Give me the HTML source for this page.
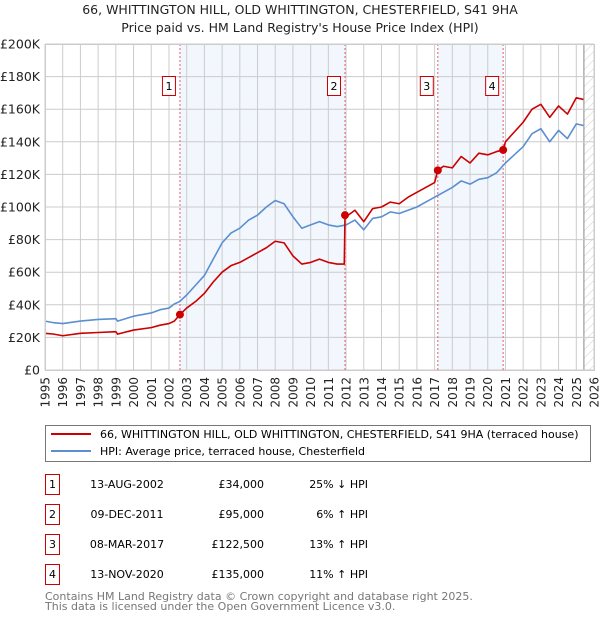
<!DOCTYPE html>
<html><head><meta charset="utf-8"><style>
body{margin:0;background:#fff;font-family:"Liberation Sans","DejaVu Sans",sans-serif;}
svg text{font-family:"DejaVu Sans","Liberation Sans",sans-serif;}
</style></head><body>
<svg id="c" width="600" height="620" xmlns="http://www.w3.org/2000/svg">
<defs><pattern id="hatch" width="6" height="6" patternUnits="userSpaceOnUse" patternTransform="rotate(45)"><line x1="0" y1="0" x2="0" y2="6" stroke="#ccc" stroke-width="1"/></pattern></defs>
<text x="300" y="14" text-anchor="middle" font-size="12.5" fill="#222">66, WHITTINGTON HILL, OLD WHITTINGTON, CHESTERFIELD, S41 9HA</text>
<text x="300" y="32" text-anchor="middle" font-size="12.5" fill="#222">Price paid vs. HM Land Registry's House Price Index (HPI)</text>
<g id="plot"></g>
<g>
<rect x="45.5" y="425.5" width="545" height="36" fill="#fff" stroke="#777"/>
<line x1="51" y1="434" x2="91" y2="434" stroke="#cc0000" stroke-width="2"/>
<text x="100" y="438" font-size="11" fill="#000">66, WHITTINGTON HILL, OLD WHITTINGTON, CHESTERFIELD, S41 9HA (terraced house)</text>
<line x1="51" y1="451" x2="91" y2="451" stroke="#5b8fd0" stroke-width="2"/>
<text x="100" y="455" font-size="11" fill="#000">HPI: Average price, terraced house, Chesterfield</text>
</g>
<g id="table" font-size="11" fill="#000"></g>
<text x="45" y="600" font-size="11" fill="#777">Contains HM Land Registry data © Crown copyright and database right 2025.</text>
<text x="45" y="610" font-size="11" fill="#777">This data is licensed under the Open Government Licence v3.0.</text>
</svg>
<script>
const hpiYears=[1995,1995.5,1996,1997,1998,1999,1999.1,2000,2001,2001.5,2002,2002.3,2002.6,2003,2003.5,2004,2004.5,2005,2005.5,2006,2006.5,2007,2007.5,2008,2008.5,2009,2009.5,2010,2010.5,2011,2011.5,2012,2012.5,2013,2013.5,2014,2014.5,2015,2015.5,2016,2016.5,2017,2017.5,2018,2018.5,2019,2019.5,2020,2020.5,2021,2021.5,2022,2022.5,2023,2023.5,2024,2024.5,2025,2025.4];
const hpiValues=[30,29,28.5,30,31,31.5,30,33,35,37,38,40.5,42,46,52,58,68,78,84,87,92,95,100,104,102,94,87,89,91,89,88,89,92,86,93,94,97,96,98,100,103,106,109,112,116,114,117,118,121,127,132,137,145,148,140,147,142,151,150];
const propYears=[1995,1995.5,1996,1997,1998,1999,1999.1,2000,2001,2001.5,2002,2002.3,2002.62,2003,2003.5,2004,2004.5,2005,2005.5,2006,2006.5,2007,2007.5,2008,2008.5,2009,2009.5,2010,2010.5,2011,2011.5,2011.9,2011.94,2012,2012.5,2013,2013.5,2014,2014.5,2015,2015.5,2016,2016.5,2017,2017.18,2017.5,2018,2018.5,2019,2019.5,2020,2020.5,2020.87,2021,2021.5,2022,2022.5,2023,2023.5,2024,2024.5,2025,2025.4];
const propValues=[22.5,22,21,22.5,23,23.5,22,24.5,26,27.5,28.5,30,34,38,42,47,54,60,64,66,69,72,75,79,78,70,65,66,68,66,65,65,95,94,98,91,99,100,103,102,106,109,112,115,122.5,125,124,131,127,133,132,134,135,140,146,152,160,163,155,162,157,167,166];
const saleNums=["1","2","3","4"];
const saleYears=[2002.62,2011.94,2017.18,2020.87];
const salePrices=[34,95,122.5,135];
const saleDates=["13-AUG-2002","09-DEC-2011","08-MAR-2017","13-NOV-2020"];
const salePriceLabels=["£34,000","£95,000","£122,500","£135,000"];
const saleHpi=["25% ↓ HPI","6% ↑ HPI","13% ↑ HPI","11% ↑ HPI"];
const yTicks=[0,20,40,60,80,100,120,140,160,180,200];
const yTickLabels=["£0","£20K","£40K","£60K","£80K","£100K","£120K","£140K","£160K","£180K","£200K"];
const xTicks=[1995,1996,1997,1998,1999,2000,2001,2002,2003,2004,2005,2006,2007,2008,2009,2010,2011,2012,2013,2014,2015,2016,2017,2018,2019,2020,2021,2022,2023,2024,2025,2026];

const L=45,R=594,T=44,B=370,x0=1995,x1=2026,yMax=200;
const xs=v=>L+(v-x0)/(x1-x0)*(R-L);
const ys=v=>B-v/yMax*(B-T);
const NS="http://www.w3.org/2000/svg";
const plot=document.getElementById('plot');
function mk(tag,attrs,parent){const e=document.createElementNS(NS,tag);for(const k in attrs)e.setAttribute(k,attrs[k]);(parent||plot).appendChild(e);return e;}
// shading
for(let i=0;i<saleYears.length;i+=2){
 const r=mk('rect',{x:xs(saleYears[i]),y:T,width:xs(saleYears[i+1])-xs(saleYears[i]),height:B-T,fill:'#eef3fc',opacity:0.75});
 
 
}
// hatch
const h=mk('rect',{x:xs(2025.43),y:T,width:R-xs(2025.43),height:B-T,fill:'url(#hatch)'});


mk('line',{x1:xs(2025.43),y1:T,x2:xs(2025.43),y2:B,stroke:'#888','stroke-width':1});
// grid
yTicks.forEach((v,i)=>{
 mk('line',{x1:L,x2:R,y1:ys(v),y2:ys(v),stroke:'#ccc','stroke-width':1});
 const t=mk('text',{x:L-5,y:ys(v)+4.5,'text-anchor':'end','font-size':12.5,fill:'#222'});
 t.textContent=yTickLabels[i];
 
 
});
xTicks.forEach(v=>{
 mk('line',{x1:xs(v),x2:xs(v),y1:T,y2:B,stroke:'#ccc','stroke-width':1});
 const t=mk('text',{x:0,y:0,'text-anchor':'end','font-size':12,fill:'#222',transform:`translate(${xs(v)+4.5},377) rotate(-90)`});
 t.textContent=v;
 
 
});
// sale lines
saleYears.forEach((v,i)=>{
 mk('line',{x1:xs(v),x2:xs(v),y1:T,y2:B,stroke:'#e06070','stroke-width':1,'stroke-dasharray':'2,2'});
 const g=mk('g',{});
 
 
 mk('rect',{x:xs(v)-17.5,y:76.5,width:13,height:19,fill:'#fff',stroke:'#cc0000'},g);
 const t=mk('text',{x:xs(v)-11,y:90,'text-anchor':'middle','font-size':11,fill:'#000'},g);
 t.textContent=saleNums[i];
});
function line(xa,ya,col,name){
 const p=mk('polyline',{points:xa.map((x,i)=>xs(x)+','+ys(ya[i])).join(' '),fill:'none',stroke:col,'stroke-width':1.6,'stroke-linejoin':'round'});
 
 
}
line(hpiYears,hpiValues,'#5b8fd0','hpi-line');
line(propYears,propValues,'#cc0000','property-line');
saleYears.forEach((v,i)=>{
 const c=mk('circle',{cx:xs(v),cy:ys(salePrices[i]),r:4,fill:'#cc0000'});
 
 
});
mk('rect',{x:L+0.5,y:T+0.5,width:R-L,height:B-T,fill:'none',stroke:'#ccc'});
// table
const tb=document.getElementById('table');
saleNums.forEach((n,i)=>{
 const y=487+i*30;
 const g=mk('g',{},tb);
 
 
 mk('rect',{x:45.5,y:y-12.5,width:14,height:20,fill:'#fff',stroke:'#cc0000'},g);
 let t=mk('text',{x:52.5,y:y+1,'text-anchor':'middle'},g);t.textContent=n;
 t=mk('text',{x:57+40+30,y:y+1,'text-anchor':'middle'},g);t.textContent=saleDates[i];
 t=mk('text',{x:264,y:y+1,'text-anchor':'end'},g);t.textContent=salePriceLabels[i];
 t=mk('text',{x:368,y:y+1,'text-anchor':'end'},g);t.textContent=saleHpi[i];
});
</script>
</body></html>
